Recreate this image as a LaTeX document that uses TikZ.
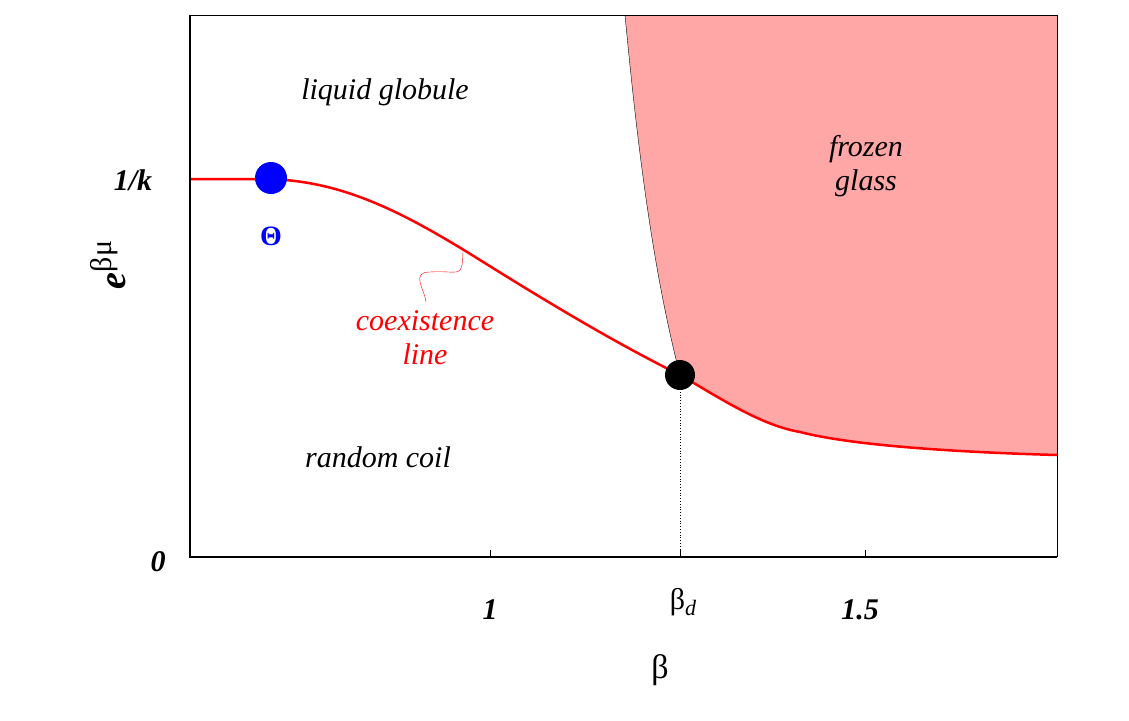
\documentclass[tikz,border=0pt]{standalone}
\usepackage{fontspec}
\setmainfont{Liberation Serif}
\begin{document}
\begin{tikzpicture}[x=1pt,y=-1pt,
  lbl/.style={font=\fontsize{30}{34}\selectfont\itshape,align=center},
  tick/.style={font=\fontsize{30}{34}\selectfont\bfseries\itshape}]
\useasboundingbox (0,0) rectangle (1129,720);
\fill[red!35!white] (625,15) .. controls (635,120) and (650,260) .. (680,375)
  .. controls (720,398) and (760,425) .. (800,432)
  .. controls (850,445) and (950,452) .. (1057,455) -- (1057,15) -- cycle;
\draw[thin] (625,15) .. controls (635,120) and (650,260) .. (680,375);
\draw[line width=2.5pt,red] (190,179) -- (265,179)
  .. controls (340,180) and (400,210) .. (480,260)
  .. controls (560,310) and (620,345) .. (680,375)
  .. controls (720,398) and (760,425) .. (800,432)
  .. controls (850,445) and (950,452) .. (1057,455);
\draw[red,thin] (463,252) .. controls (462,280) and (460,270) .. (430,272) .. controls (410,272) and (425,290) .. (426,302);
\draw[thin] (190,15) -- (1057,15) -- (1057,557);
\draw[line width=2pt] (190,15) -- (190,557) -- (1057,557);
\foreach \x in {490,680,865} \draw (\x,557) -- (\x,550);
\draw[dotted,thick] (680,375) -- (680,557);
\node[circle,fill=blue,minimum size=32pt,inner sep=0] (theta) at (271,178) {};
\node[circle,fill=black,minimum size=30pt,inner sep=0] (bd) at (680,375) {};
\node[text=blue,font=\fontsize{28}{34}\selectfont\bfseries] (thl) at (271,236) {Θ};
\node[lbl] (lg) at (385,92) {liquid globule};
\node[lbl] (fg) at (866,166) {frozen\\glass};
\node[lbl] (rc) at (378,457) {random coil};
\node[lbl,text=red] (cl) at (425,338) {coexistence\\line};
\node[tick] (k) at (133,180) {1/k};
\node[tick] (z) at (158,562) {0};
\node[tick] (one) at (490,610) {1};
\node[tick] (onefive) at (860,610) {1.5};
\node[font=\fontsize{30}{34}\selectfont] (bdl) at (683,602) {β\raisebox{-6pt}{\fontsize{22}{24}\selectfont\itshape d}};
\node[font=\fontsize{34}{38}\selectfont] (b) at (660,670) {β};
\node[rotate=90,font=\fontsize{38}{42}\selectfont] (e) at (108,265) {\textbf{\textit{e}}\raisebox{14pt}{\fontsize{30}{34}\selectfont βμ}};
\end{tikzpicture}
\end{document}
